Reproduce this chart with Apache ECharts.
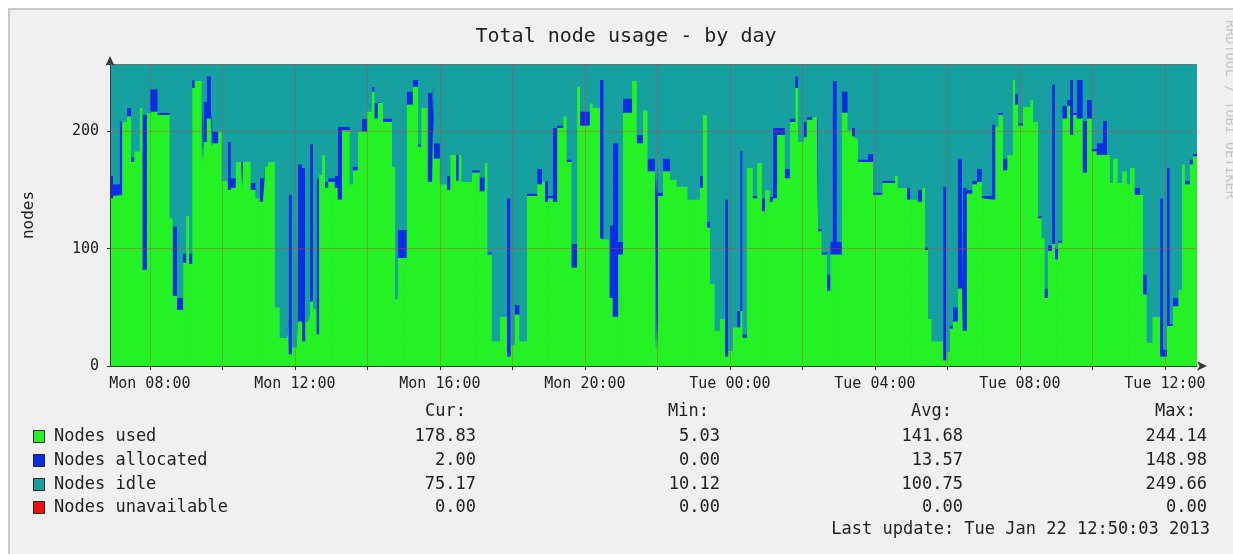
<!DOCTYPE html>
<html>
<head>
<meta charset="utf-8">
<script src="https://cdn.jsdelivr.net/npm/echarts@6/dist/echarts.min.js"></script>
<style>
html,body{margin:0;padding:0;background:#ffffff;overflow:hidden;}
#frame{position:absolute;left:8px;top:8px;width:1240px;height:560px;background:#f0f0f0;border-left:2px solid #c9c9c9;border-top:2px solid #c9c9c9;box-sizing:border-box;}
#c{position:absolute;left:0;top:0;width:1233px;height:554px;}
</style>
</head>
<body>
<div id="frame"></div>
<div id="c"></div>
<script>
// time in minutes since Mon 00:00 (each value holds until the next time)
const minutes = [414,419,430,434,442,449,454,463,468,475,480,493,513,518,525,535,540,545,550,554,566,569,574,581,584,593,599,609,614,622,631,634,647,655,662,667,670,675,687,695,707,710,715,723,725,732,737,742,745,750,756,760,765,770,775,786,791,798,811,816,824,831,839,847,852,857,866,881,886,890,905,915,924,929,940,947,950,960,972,977,987,991,996,1013,1026,1034,1039,1046,1059,1071,1077,1084,1092,1104,1121,1129,1134,1139,1147,1154,1164,1170,1178,1187,1192,1208,1213,1225,1231,1241,1246,1255,1263,1278,1286,1296,1304,1316,1319,1321,1329,1341,1352,1370,1390,1395,1402,1407,1415,1423,1432,1437,1445,1452,1457,1461,1468,1478,1485,1493,1498,1506,1511,1518,1531,1539,1548,1553,1562,1567,1576,1584,1586,1592,1601,1606,1610,1617,1625,1635,1642,1647,1652,1668,1677,1692,1713,1718,1733,1738,1751,1758,1763,1768,1774,1793,1798,1804,1809,1817,1824,1826,1832,1841,1849,1857,1874,1879,1884,1892,1899,1908,1912,1917,1925,1937,1942,1950,1956,1961,1966,1973,1978,1983,1990,1998,2003,2008,2014,2024,2031,2039,2047,2057,2064,2069,2074,2082,2089,2097,2102,2110,2119,2124,2130,2139,2152,2157,2163,2168,2173,2182,2188,2193,2201,2206,2213];
const used = [143,145,146,208,213,174,183,220,82,216,217,214,126,60,48,88,128,87,237,243,173,191,211,187,190,200,158,150,152,174,152,174,150,143,140,160,170,174,50,24,41,10,16,47,38,21,38,45,55,49,27,163,180,152,157,152,142,201,155,167,200,200,217,234,211,225,208,170,57,92,223,238,187,220,157,244,177,155,150,180,158,180,157,165,149,173,95,21,42,8,18,44,21,145,155,157,140,143,140,203,213,174,84,238,205,224,220,109,108,58,42,95,216,243,190,218,166,13,35,145,166,159,153,142,152,214,118,70,30,40,8,13,33,33,47,24,169,143,173,132,150,140,143,197,160,208,237,191,195,210,213,207,115,95,64,95,95,95,216,201,196,194,174,174,146,156,162,152,142,142,140,152,99,40,21,5,12,32,38,66,30,30,147,155,157,143,142,204,214,167,180,244,223,205,221,227,208,126,109,58,98,104,91,105,211,222,197,214,211,165,211,183,180,180,180,156,177,156,166,155,169,146,146,61,20,42,8,8,34,34,51,65,172,155,172,178.83,178.83];
const allocated = [19,10,63,0,7,4,0,0,132,0,19,2,0,59,10,8,0,9,7,0,10,34,36,30,10,0,0,41,8,0,22,0,6,0,20,0,0,0,0,0,0,136,0,0,134,148,0,0,134,0,133,0,0,5,3,10,62,3,0,3,0,11,0,4,13,0,3,0,0,24,11,6,2,0,76,0,13,0,12,0,22,0,0,2,12,0,2,0,0,135,0,8,0,2,13,0,18,2,63,2,0,2,20,0,12,0,0,135,0,62,148,11,12,0,7,0,11,132,148,3,11,0,0,0,10,0,5,0,0,0,134,0,0,14,136,3,0,2,0,11,0,4,60,6,8,3,10,0,13,2,0,2,2,2,14,11,148,11,18,0,7,0,2,7,2,2,0,0,10,0,10,0,2,0,0,148,0,2,12,111,31,122,3,3,11,2,64,0,2,10,0,0,9,2,0,0,0,2,0,8,5,136,9,2,11,5,47,2,33,44,16,2,10,29,0,0,0,0,0,0,0,6,0,17,0,0,135,6,135,2,7,0,0,3,4,2,2];
const idle = [94,101,47,48,36,78,73,36,42,40,20,40,130,137,198,160,128,160,12,13,73,31,9,39,56,56,98,65,96,82,82,82,100,113,96,96,86,82,206,232,215,110,240,209,84,87,218,211,67,207,96,93,76,99,96,94,52,52,101,86,56,45,39,18,32,31,45,86,199,140,22,12,67,36,23,12,66,101,94,76,76,76,99,89,95,83,159,235,214,113,238,204,235,109,88,99,98,111,53,51,43,80,152,18,39,32,36,12,148,136,66,150,28,13,59,38,79,111,73,108,79,97,103,114,94,42,133,186,226,216,114,243,223,209,73,229,87,111,83,113,106,112,53,53,88,45,9,65,48,44,43,47,139,159,178,150,13,150,22,55,53,62,80,75,108,98,94,104,104,114,106,104,155,216,235,103,244,222,206,79,195,104,106,98,88,111,50,52,40,79,76,12,24,49,35,29,48,128,147,190,153,16,156,149,34,29,12,40,12,47,29,71,66,47,76,100,79,100,90,101,87,104,110,178,236,214,113,242,87,220,198,191,84,98,80,75.17,75.17];

const xTickMinutes = [480,720,960,1200,1440,1680,1920,2160];
const xTickLabels = ['Mon 08:00','Mon 12:00','Mon 16:00','Mon 20:00','Tue 00:00','Tue 04:00','Tue 08:00','Tue 12:00'];
const gridMinutes = [480,600,720,840,960,1080,1200,1320,1440,1560,1680,1800,1920,2040,2160];
const minorGridMinutes = [420,540,660,780,900,1020,1140,1260,1380,1500,1620,1740,1860,1980,2100];
const yTicks = [0,100,200];

const legendNames = ['Nodes used','Nodes allocated','Nodes idle','Nodes unavailable'];
const legendColors = ['#24f224','#0a2de6','#17a0a0','#ee1111'];
const statHeaders = ['Cur:','Min:','Avg:','Max:'];
const statCur = ['178.83','2.00','75.17','0.00'];
const statMin = ['5.03','0.00','10.12','0.00'];
const statAvg = ['141.68','13.57','100.75','0.00'];
const statMax = ['244.14','148.98','249.66','0.00'];
const titleText = 'Total node usage - by day';
const lastUpdate = 'Last update: Tue Jan 22 12:50:03 2013';
const watermark = 'RRDTOOL / TOBI OETIKER';

const MONO = '"DejaVu Sans Mono", monospace';
// rows are [value, minute] so that stacking happens on the value dimension
function rows(arr){ return minutes.map((m,i)=>[arr[i], m]); }
function areaSeries(name, arr, color, extra){
  return Object.assign({
    name, type:'line', stack:'nodes', step:'end', data: rows(arr),
    encode:{x:1, y:0},
    symbol:'none', showSymbol:false,
    lineStyle:{width:0, opacity:0},
    areaStyle:{color, opacity:1},
    itemStyle:{color},
    animation:false, silent:true
  }, extra||{});
}

const chart = echarts.init(document.getElementById('c'), null, {renderer:'canvas'});

const graphics = [];
graphics.push({type:'text', x:626, y:37, style:{text:titleText, font:'20px '+MONO, fill:'#222', align:'center', verticalAlign:'middle'}});
graphics.push({type:'text', x:1229, y:20, rotation:-Math.PI/2, style:{text:watermark, font:'13.5px '+MONO, fill:'#c6c6c6', align:'left', verticalAlign:'middle'}});
const rowY = [437,461,485,508];
const colRight = [476,720,963,1207];
const headRight = [466,709,952,1196];
const stats = [statCur, statMin, statAvg, statMax];
const LFONT = '17px '+MONO;
statHeaders.forEach((h,j)=>{
  graphics.push({type:'text', x:headRight[j], y:412, style:{text:h, font:LFONT, fill:'#222', align:'right', verticalAlign:'middle'}});
});
legendNames.forEach((n,i)=>{
  graphics.push({type:'rect', shape:{x:33.5,y:rowY[i]-6.5,width:11,height:12}, style:{fill:legendColors[i], stroke:'#222', lineWidth:1}});
  graphics.push({type:'text', x:54, y:rowY[i], style:{text:n, font:LFONT, fill:'#222', align:'left', verticalAlign:'middle'}});
  stats.forEach((col,j)=>{
    graphics.push({type:'text', x:colRight[j], y:rowY[i], style:{text:col[i], font:LFONT, fill:'#222', align:'right', verticalAlign:'middle'}});
  });
});
graphics.push({type:'text', x:1210, y:530, style:{text:lastUpdate, font:LFONT, fill:'#222', align:'right', verticalAlign:'middle'}});

const majorLine = {color:'rgba(230,50,50,0.4)', width:1, type:'solid'};
const minorLine = {color:'rgba(110,110,110,0.22)', width:1, type:[1,2]};

chart.setOption({
  animation:false,
  backgroundColor:'transparent',
  grid:{left:110, right:36, top:64, bottom:188, containLabel:false, show:true, backgroundColor:legendColors[2], borderWidth:0},
  xAxis:{
    type:'value', min:414, max:2213, z:10,
    axisLine:{show:true, onZero:false, lineStyle:{color:'#3a3a3a', width:1}, symbol:['none','arrow'], symbolSize:[7,10], symbolOffset:[0,10]},
    axisTick:{show:true, customValues:gridMinutes, length:4, lineStyle:{color:'#333'}},
    axisLabel:{show:true, customValues:xTickMinutes, formatter:(v)=>{const k=xTickMinutes.indexOf(v); return k>=0?xTickLabels[k]:'';}, fontFamily:MONO, fontSize:15, color:'#222', margin:11},
    splitLine:{show:false}
  },
  yAxis:{
    type:'value', min:0, max:257.5, interval:100, z:10,
    name:'nodes', nameLocation:'middle', nameGap:73, nameRotate:90,
    nameTextStyle:{fontFamily:MONO, fontSize:16, color:'#222'},
    axisLine:{show:true, lineStyle:{color:'#3a3a3a', width:1}, symbol:['none','arrow'], symbolSize:[7,10], symbolOffset:[0,8]},
    axisTick:{show:true, length:3, lineStyle:{color:'#333'}},
    axisLabel:{fontFamily:MONO, fontSize:15, color:'#222', margin:11, formatter:(v)=> yTicks.indexOf(v)>=0 ? String(v) : ''},
    splitLine:{show:true, lineStyle:{color:'rgba(230,50,50,0.4)', width:1}}
  },
  series:[
    areaSeries('Nodes used', used, legendColors[0]),
    areaSeries('Nodes allocated', allocated, legendColors[1]),
    areaSeries('Nodes idle', idle, legendColors[2], {
      markLine:{silent:true, symbol:'none', animation:false, label:{show:false},
        lineStyle:majorLine,
        emphasis:{disabled:true},
        data: gridMinutes.map(m=>({xAxis:m, lineStyle:majorLine}))
          .concat(minorGridMinutes.map(m=>({xAxis:m, lineStyle:minorLine})))}
    })
  ],
  graphic: graphics
});
</script>
</body>
</html>
